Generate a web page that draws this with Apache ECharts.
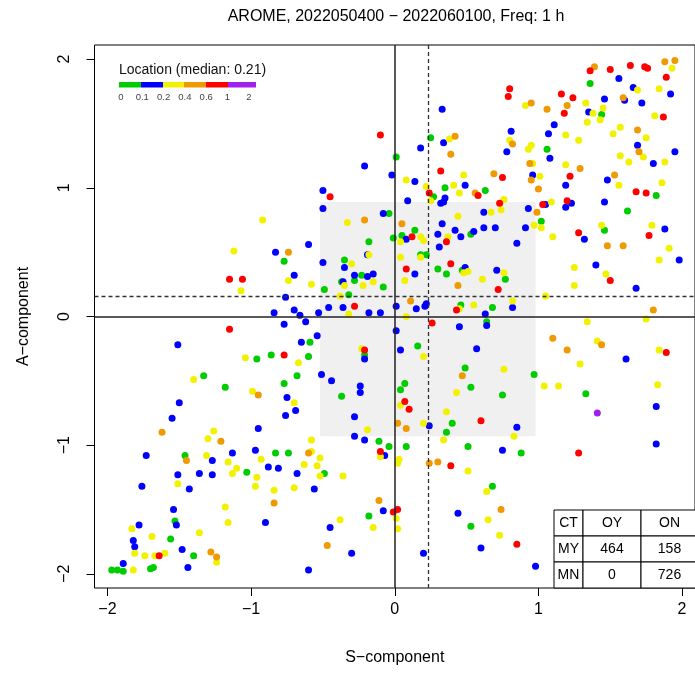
<!DOCTYPE html>
<html>
<head>
<meta charset="utf-8">
<script src="https://cdn.jsdelivr.net/npm/echarts@6/dist/echarts.min.js"></script>
<style>html,body{margin:0;padding:0;background:#fff}#chart{width:695px;height:674px}</style>
</head>
<body>
<div id="chart"></div>
<script>
var chartTitle = 'AROME, 2022050400 \u2212 2022060100, Freq: 1 h';
var xName = 'S\u2212component';
var yName = 'A\u2212component';
var axisTicks = [-2, -1, 0, 1, 2];
var legendTitle = 'Location (median: 0.21)';
var legendBreaks = ['0', '0.1', '0.2', '0.4', '0.6', '1', '2'];
var classColors = ['#00cd00', '#0000ff', '#f2f200', '#ee9a00', '#ff0000', '#a020f0'];
var medianS = 0.234, medianA = 0.16;
var boxS = [-0.52, 0.98], boxA = [-0.93, 0.89];
var tableHead = ['CT', 'OY', 'ON'];
var tableRows = ['MY', 'MN'];
var tableCounts = [[464, 158], [0, 726]];

// points by location class
var greenPts = [
  [0.25,1.39],[0.01,1.24],[0.35,1.00],[0.27,0.93],[0.63,0.98],[-0.04,0.80],
  [1.36,1.81],[1.44,1.57],[1.06,1.30],[1.82,0.94],[1.62,0.82],[1.02,0.74],
  [-0.77,0.43],[-0.96,-0.33],[-0.86,-0.30],[-1.33,-0.46],[-1.18,-0.55],[-0.77,-0.52],
  [-0.18,0.58],[-0.35,0.44],[-0.23,0.32],[-0.37,0.27],[-0.28,0.28],[-0.08,0.23],[-0.49,0.21],[-0.32,0.17],
  [-0.01,0.61],[0.05,0.63],[0.14,0.67],[0.18,0.48],[0.22,0.48],[0.53,0.64],[0.47,0.36],[0.30,0.37],[0.36,0.33],
  [0.46,0.09],[0.64,-0.04],[0.68,0.07],[-0.59,-0.20],[-0.60,-0.31],[-0.68,-0.46],[-0.21,-0.30],[0.16,-0.23],
  [0.49,-0.40],[0.53,-0.55],[0.07,-0.52],[0.04,-0.57],[-0.37,-0.62],
  [1.46,0.67],[0.77,0.29],[0.97,-0.45],[1.33,-0.60],[0.75,-0.61],
  [-1.46,-1.08],[-1.03,-1.21],[-0.83,-1.06],[-0.74,-1.06],[-1.53,-1.59],[-1.56,-1.73],[-1.40,-1.86],
  [-1.97,-1.97],[-1.93,-1.97],[-1.89,-1.98],[-1.70,-1.96],[-1.68,-1.95],
  [0.40,-0.83],[0.36,-0.90],[0.51,-1.01],[-0.11,-0.97],[-0.04,-1.01],[0.08,-1.01],[0.68,-1.32],
  [-0.49,-1.22],[-0.18,-1.55],[0.53,-1.63],[0.88,-1.06]
];
var bluePts = [
  [0.33,1.61],[0.34,1.35],[0.18,1.31],[-0.21,1.17],[-0.02,1.10],[0.14,1.05],[0.49,1.02],[-0.50,0.98],
  [-0.50,0.84],[0.09,0.90],[0.32,0.88],[0.34,0.89],[0.35,0.92],[0.62,0.81],[-0.08,0.80],[0.33,0.72],
  [1.56,1.85],[1.66,1.78],[1.92,1.73],[1.46,1.69],[1.60,1.68],[1.72,1.66],[1.35,1.59],[1.11,1.49],
  [1.07,1.42],[0.81,1.44],[0.78,1.28],[1.08,1.23],[1.69,1.33],[1.95,1.28],[1.80,1.19],[0.96,1.10],
  [1.19,1.02],[1.48,1.06],[0.93,0.84],[1.05,0.87],[1.23,0.88],[1.19,0.85],[1.46,0.89],
  [-0.83,0.50],[-0.70,0.32],[-0.76,0.15],[-0.84,0.03],[-0.70,0.05],[-0.77,-0.06],[-1.51,-0.22],[-0.75,-0.63],[-1.50,-0.67],
  [-0.60,0.56],[-0.19,0.48],[-0.50,0.42],[-0.35,0.38],[-0.28,0.32],[-0.19,0.31],[-0.15,0.33],[-0.36,0.27],
  [-0.46,0.07],[-0.36,0.07],[-0.53,0.03],[-0.66,0.01],[-0.62,-0.04],[-0.18,0.03],[-0.10,0.03],[0.01,0.08],
  [0.08,0.60],[0.14,0.33],[0.30,0.64],[0.31,0.54],[0.42,0.67],[0.46,0.62],[0.55,0.66],[0.62,0.69],
  [0.49,0.38],[0.15,0.06],[0.21,0.08],[0.22,0.10],[0.45,-0.08],[0.63,0.02],[0.64,-0.07],[0.01,-0.11],
  [-0.54,-0.15],[-0.65,-0.20],[-0.51,-0.45],[-0.44,-0.50],[-0.21,-0.33],[0.04,-0.26],[0.57,-0.25],[-0.24,-0.54],[-0.24,-0.59],
  [0.70,0.69],[0.91,0.69],[1.88,0.68],[0.85,0.57],[1.32,0.60],[1.98,0.44],[0.71,0.36],[1.40,0.40],[1.68,0.22],[0.82,0.07],[1.61,-0.33],
  [-1.55,-0.79],[-0.76,-0.77],[-0.69,-0.73],[-0.95,-0.87],[-1.73,-1.08],[-1.27,-1.12],[-1.13,-1.06],[-0.97,-1.04],
  [-0.88,-1.17],[-0.81,-1.18],[-1.51,-1.23],[-1.36,-1.22],[-1.27,-1.23],[-1.43,-1.34],[-1.76,-1.32],[-1.54,-1.50],
  [-0.90,-1.60],[-1.52,-1.62],[-1.78,-1.62],[-1.82,-1.74],[-1.81,-1.79],[-1.48,-1.81],[-1.89,-1.92],[-1.44,-1.95],
  [-0.28,-0.78],[0.24,-0.85],[-0.28,-0.93],[-0.21,-0.96],[-0.07,-1.08],[-0.68,-1.22],[-0.56,-1.34],[-0.08,-1.51],
  [-0.45,-1.64],[-0.30,-1.84],[-0.60,-1.97],[0.20,-1.84],[0.44,-1.53],[0.60,-1.80],
  [1.82,-0.70],[0.85,-0.86],[1.82,-0.99],[0.75,-1.04],[0.98,-1.94]
];
var yellowPts = [
  [-0.92,0.75],
  [0.38,1.38],[0.48,1.10],[0.08,1.06],[0.22,1.01],[0.41,1.02],[0.45,0.96],[0.25,0.90],[0.44,0.78],[0.67,0.81],[-0.33,0.73],
  [1.93,1.93],[1.69,1.76],[1.84,1.77],[0.91,1.64],[1.33,1.66],[1.38,1.58],[1.45,1.62],[1.43,1.53],[1.34,1.51],[1.81,1.56],
  [0.80,1.37],[0.93,1.30],[0.95,1.33],[1.19,1.41],[1.28,1.37],[1.52,1.42],[1.57,1.47],[1.75,1.39],[1.73,1.24],[1.57,1.25],
  [1.63,1.20],[1.88,1.20],[0.96,1.19],[1.19,1.18],[1.01,1.09],[1.56,1.02],[1.86,1.04],[0.76,0.91],[0.74,0.83],[1.09,0.89],
  [-1.12,0.51],[-0.74,0.28],[-1.07,0.20],[-1.04,-0.32],[-1.40,-0.49],[-0.99,-0.58],[-0.70,-0.67],
  [-0.18,0.48],[-0.30,0.41],[-0.15,0.27],[-0.35,0.24],[-0.22,0.24],[-0.58,0.25],[-0.38,0.16],[-0.32,0.02],
  [0.04,0.58],[0.18,0.62],[0.20,0.59],[0.18,0.46],[0.04,0.46],[0.07,0.28],[0.37,0.62],[0.51,0.35],[0.48,0.34],
  [0.61,0.29],[0.08,0.00],[0.45,0.06],[0.55,0.09],[-0.67,-0.36],[-0.23,-0.25],[0.20,-0.31],[0.43,-0.59],
  [0.97,0.71],[1.02,0.69],[1.44,0.71],[1.79,0.71],[1.10,0.62],[1.91,0.53],[1.84,0.44],[0.76,0.34],[1.25,0.38],
  [1.47,0.33],[1.25,0.24],[1.05,0.16],[0.82,0.12],[1.75,-0.02],[1.34,-0.04],[1.41,-0.19],[1.84,-0.26],[1.29,-0.37],
  [0.76,-0.41],[1.04,-0.54],[1.14,-0.54],[1.83,-0.53],
  [-1.26,-0.89],[-1.30,-0.95],[-1.31,-1.08],[-1.16,-1.13],[-1.10,-1.18],[-1.13,-1.22],[-0.93,-1.11],[-1.51,-1.30],
  [-0.96,-1.25],[-0.97,-1.32],[-0.84,-1.35],[-0.70,-1.33],[-1.18,-1.48],[-1.16,-1.60],[-1.83,-1.65],[-1.81,-1.84],
  [-1.69,-1.71],[-1.36,-1.68],[-1.74,-1.86],[-1.67,-1.86],[-1.60,-1.84],[-1.24,-1.91],[-1.82,-1.97],
  [0.04,-0.69],[0.36,-0.74],[0.20,-0.83],[0.34,-0.96],[-0.19,-0.88],[-0.58,-0.96],[-0.58,-1.05],[-0.52,-1.10],
  [-0.63,-1.15],[-0.54,-1.16],[-0.52,-1.24],[-0.36,-1.24],[-0.10,-1.09],[0.03,-1.11],[0.02,-1.14],[0.51,-1.20],
  [0.64,-1.36],[0.01,-1.57],[0.02,-1.65],[-0.15,-1.64],[-0.38,-1.58],[0.65,-1.58],
  [0.83,-0.93],[0.73,-1.70]
];
var orangePts = [
  [0.42,1.40],[0.39,1.26],[0.56,0.96],[0.69,1.11],[-0.21,0.75],[0.05,0.72],
  [1.39,1.94],[1.88,1.98],[1.95,1.99],[1.20,1.64],[0.95,1.66],[1.06,1.61],[1.59,1.70],[0.82,1.34],
  [1.69,1.45],[1.70,1.28],[0.94,1.19],[1.29,1.15],[0.95,1.06],[1.00,0.99],[1.53,1.10],[0.99,0.81],
  [-0.74,0.50],[-0.95,-0.61],[0.44,0.24],[0.11,0.12],[0.47,-0.46],
  [1.48,0.55],[1.59,0.55],[1.80,0.05],[1.10,-0.17],[1.20,-0.26],[1.44,-0.22],
  [-1.62,-0.90],[-1.21,-0.97],[-1.45,-1.12],[-0.84,-1.45],[-1.28,-1.83],[-1.24,-1.87],
  [0.02,-0.83],[0.08,-0.87],[0.24,-1.14],[0.30,-1.13],[-0.60,-1.06],[-0.11,-1.43],[-0.47,-1.78],
  [0.74,-1.50]
];
var redPts = [
  [-0.10,1.41],[0.32,1.13],[0.24,0.96],[0.58,0.94],[-0.45,0.93],
  [1.36,1.91],[1.50,1.92],[1.64,1.95],[1.74,1.94],[1.76,1.93],[1.89,1.86],[0.80,1.77],[0.79,1.71],
  [1.16,1.73],[1.24,1.70],[1.18,1.58],[1.87,1.55],[0.75,1.08],[1.22,1.09],[1.68,0.97],[1.75,0.96],
  [0.73,0.88],[1.03,0.87],[1.20,0.90],
  [-1.15,0.29],[-1.06,0.29],[-1.15,-0.10],[-0.77,-0.30],
  [0.12,0.62],[0.08,0.37],[-0.28,0.08],[0.36,0.58],[0.39,0.41],[0.26,-0.05],[0.43,0.05],[-0.21,-0.26],[0.07,-0.66],
  [1.28,0.65],[1.77,0.63],[0.72,0.21],[1.50,0.28],[1.89,-0.28],
  [-1.64,-1.86],
  [0.10,-0.72],[0.60,-0.81],[-0.10,-1.05],[0.39,-1.16],[-0.01,-1.52],[0.02,-1.50],
  [1.28,-1.06],[0.85,-1.77]
];
var purplePts = [[1.41,-0.75]];

var groups = [greenPts, bluePts, yellowPts, orangePts, redPts, purplePts];
var FONT = 'Liberation Sans, Arial, sans-serif';

function minusFmt(v) { return String(v).replace('-', '\u2212'); }

var chart = echarts.init(document.getElementById('chart'), null, { renderer: 'canvas' });

var series = [{
  type: 'line', data: [], z: 1, silent: true,
  markArea: {
    silent: true,
    itemStyle: { color: '#f0f0f0' },
    data: [[{ coord: [boxS[0], boxA[0]] }, { coord: [boxS[1], boxA[1]] }]]
  },
  markLine: {
    silent: true, symbol: 'none', animation: false,
    label: { show: false },
    data: [
      { xAxis: 0, lineStyle: { color: '#222', width: 1.5, type: 'solid' } },
      { yAxis: 0, lineStyle: { color: '#222', width: 1.5, type: 'solid' } },
      { xAxis: medianS, lineStyle: { color: '#333', width: 1.3, type: [4, 3] } },
      { yAxis: medianA, lineStyle: { color: '#333', width: 1.3, type: [4, 3] } }
    ]
  }
}];
groups.forEach(function (pts, i) {
  series.push({
    type: 'scatter', data: pts, z: 3,
    symbol: 'circle', symbolSize: 7,
    itemStyle: { color: classColors[i], opacity: 1 }
  });
});

// legend colour bar + labels
var graphics = [];
var legendEdges = [119, 141, 163, 184, 206, 228, 256];
graphics.push({ type: 'text', left: 119, top: 63, style: { text: legendTitle, font: '14px ' + FONT, fill: '#111' } });
classColors.forEach(function (c, i) {
  graphics.push({ type: 'rect', shape: { x: legendEdges[i], y: 82, width: legendEdges[i + 1] - legendEdges[i], height: 5.5 }, style: { fill: c } });
});
legendBreaks.forEach(function (b, i) {
  graphics.push({ type: 'text', x: 121 + i * 21.3, y: 97, style: { text: b, font: '9.5px ' + FONT, fill: '#444', align: 'center', verticalAlign: 'middle' } });
});
graphics.push({ type: 'text', x: 396, y: 17, style: { text: chartTitle, font: '16px ' + FONT, fill: '#000', align: 'center', verticalAlign: 'middle' } });

// contingency table
var colX = [554, 583, 641, 698], rowY = [510, 536, 562, 588];
var cells = [tableHead].concat(tableRows.map(function (r, i) { return [r].concat(tableCounts[i].map(String)); }));
cells.forEach(function (row, r) {
  row.forEach(function (txt, c) {
    graphics.push({ type: 'rect', z: 10, shape: { x: colX[c], y: rowY[r], width: colX[c + 1] - colX[c], height: rowY[r + 1] - rowY[r] }, style: { fill: '#fff', stroke: '#000', lineWidth: 1 } });
    graphics.push({ type: 'text', z: 11, x: (colX[c] + Math.min(colX[c + 1], 698)) / 2, y: (rowY[r] + rowY[r + 1]) / 2, style: { text: txt, font: '14px ' + FONT, fill: '#000', align: 'center', verticalAlign: 'middle' } });
  });
});

chart.setOption({
  animation: false,
  backgroundColor: '#fff',
  grid: { left: 94.5, right: -2.5, top: 45, bottom: 86, show: true, borderColor: '#000', borderWidth: 1, backgroundColor: 'transparent' },
  xAxis: {
    type: 'value', min: -2.09, max: 2.09,
    name: xName, nameLocation: 'middle', nameGap: 62,
    nameTextStyle: { fontSize: 16, color: '#000', fontFamily: FONT },
    axisLine: { show: false, onZero: false },
    axisTick: { show: true, customValues: axisTicks, length: 8, lineStyle: { color: '#000' } },
    axisLabel: { customValues: axisTicks, formatter: minusFmt, fontSize: 16, color: '#000', fontFamily: FONT, margin: 14 },
    splitLine: { show: false }
  },
  yAxis: {
    type: 'value', min: -2.11, max: 2.11,
    name: yName, nameLocation: 'middle', nameGap: 63,
    nameTextStyle: { fontSize: 16, color: '#000', fontFamily: FONT },
    axisLine: { show: false, onZero: false },
    axisTick: { show: true, customValues: axisTicks, length: 8, lineStyle: { color: '#000' } },
    axisLabel: { customValues: axisTicks, formatter: minusFmt, fontSize: 16, color: '#000', fontFamily: FONT, margin: 22, rotate: 90 },
    splitLine: { show: false }
  },
  graphic: graphics,
  series: series
});
</script>
</body>
</html>
